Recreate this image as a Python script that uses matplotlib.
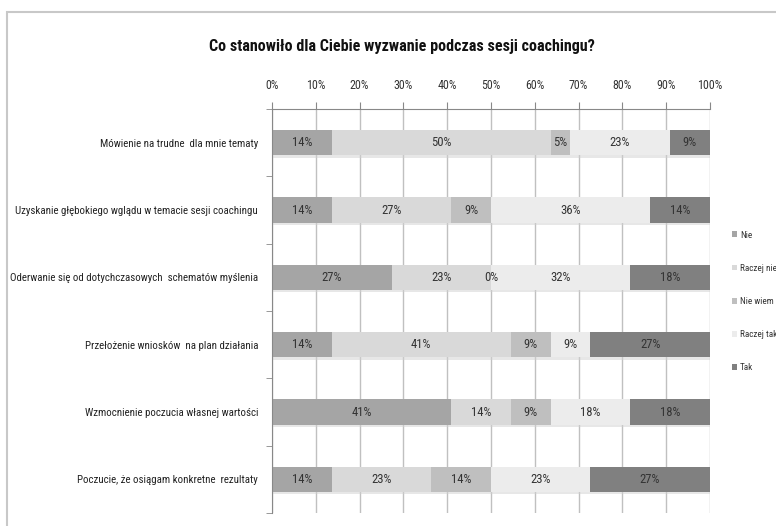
import os
import numpy as np
import matplotlib
matplotlib.use('Agg')
import matplotlib.pyplot as plt
from matplotlib import font_manager as fm
from matplotlib.textpath import TextPath
from matplotlib.patches import Rectangle

# dane (procent odpowiedzi, n = 22)
categories = [
    'Mówienie na trudne  dla mnie tematy',
    'Uzyskanie głębokiego wglądu w temacie sesji coachingu',
    'Oderwanie się od dotychczasowych  schematów myślenia',
    'Przełożenie wniosków  na plan działania',
    'Wzmocnienie poczucia własnej wartości',
    'Poczucie, że osiągam konkretne  rezultaty',
]
series_names = ['Nie', 'Raczej nie', 'Nie wiem', 'Raczej tak', 'Tak']
nie = [13.6, 13.6, 27.3, 13.6, 40.9, 13.6]
raczej_nie = [50.0, 27.3, 22.7, 40.9, 13.6, 22.7]
nie_wiem = [4.5, 9.1, 0.0, 9.1, 9.1, 13.6]
raczej_tak = [22.7, 36.4, 31.8, 9.1, 18.2, 22.7]
tak = [9.1, 13.6, 18.2, 27.3, 18.2, 27.3]
colors = ['#a5a5a5', '#d9d9d9', '#bfbfbf', '#ececec', '#808080']

series = [nie, raczej_nie, nie_wiem, raczej_tak, tak]

title = 'Co stanowiło dla Ciebie wyzwanie podczas sesji coachingu?'


# najwezsza dostepna czcionka (w oryginale mocno sciesniony Calibri)
def find_narrow(bold=False):
    ok_start = ('notosans-', 'liberationsansnarrow', 'dejavusanscondensed', 'opensans', 'roboto')
    bad = ['italic', 'oblique', 'light', 'thin', 'black', 'medium', 'semibold', 'extrabold',
           'mono', 'serif', 'cjk', 'display']
    best = None
    for f in fm.fontManager.ttflist:
        base = os.path.splitext(os.path.basename(f.fname))[0].lower()
        if not base.startswith(ok_start):
            continue
        if 'narrow' not in base and 'condensed' not in base:
            continue
        if any(b in base for b in bad) or bold != ('bold' in base):
            continue
        prop = fm.FontProperties(fname=f.fname)
        try:
            w = TextPath((0, 0), 'Uzyskanie głębokiego', size=10, prop=prop).get_extents().width
        except Exception:
            continue
        if best is None or w < best[0]:
            best = (w, prop)
    if best:
        return best[1]
    return fm.FontProperties(family='DejaVu Sans', weight='bold' if bold else 'normal')


# rozmiar czcionki tak, zeby tekst mial zadana szerokosc w pikselach
def fit_size(text, px, prop):
    w = TextPath((0, 0), text, size=10, prop=prop).get_extents().width
    return 10 * px * 0.72 / w


fp = find_narrow()
fpb = find_narrow(bold=True)

longest = max(categories, key=lambda s: TextPath((0, 0), s, size=10, prop=fp).get_extents().width)
label_size = fit_size(longest, 246, fp)
title_size = fit_size(title, 385, fpb)
tick_size = fit_size('100%', 24, fp)
data_size = fit_size('14%', 19, fp)
leg_size = fit_size('Nie wiem', 32, fp)

fig = plt.figure(figsize=(7.76, 5.26), dpi=100)
ax = fig.add_axes([272 / 776, 1 - 513 / 526, (710 - 272) / 776, (513 - 109) / 526])

# ramka wykresu
fig.patches.append(Rectangle((7 / 776, -0.1), 1.2, 1 - 12 / 526 + 0.1, transform=fig.transFigure,
                             fill=False, edgecolor='#c8c8c8', linewidth=1.5, zorder=0))

y = np.arange(len(categories))
h = 0.38
left = np.zeros(len(categories))
for name, vals, c in zip(series_names, series, colors):
    vals = np.array(vals)
    # cien pod slupkiem
    ax.barh(y + 0.035, vals, left=left, height=h, color='#d0d0d0', alpha=0.5, zorder=1)
    ax.barh(y, vals, left=left, height=h, color=c, label=name, zorder=2)
    for i, v in enumerate(vals):
        ax.text(left[i] + v / 2, y[i], '%d%%' % int(v + 0.5), ha='center', va='center',
                fontproperties=fp, fontsize=data_size, color='#333333', zorder=3)
    left += vals

ax.set_xlim(0, 100)
ax.set_ylim(len(categories) - 0.5, -0.5)
ax.xaxis.tick_top()
ax.set_xticks(np.arange(0, 101, 10))
ax.set_xticklabels(['%d%%' % t for t in range(0, 101, 10)], fontproperties=fp, fontsize=tick_size,
                   color='#333333')
ax.tick_params(axis='x', length=5, color='#888888', pad=7)
ax.set_yticks(y)
ax.set_yticklabels(categories, fontproperties=fp, fontsize=label_size, color='#222222')
ax.set_yticks(np.arange(-0.5, len(categories), 1), minor=True)
ax.tick_params(axis='y', which='major', length=0, pad=10)
ax.tick_params(axis='y', which='minor', length=4, color='#888888')
ax.grid(axis='x', color='#c0c0c0', linewidth=1, zorder=0)
ax.set_axisbelow(True)
for s in ['right', 'bottom']:
    ax.spines[s].set_visible(False)
ax.spines['top'].set_color('#888888')
ax.spines['left'].set_color('#888888')

fig.text(402 / 776, 1 - 46 / 526, title, ha='center', va='center', fontproperties=fpb,
         fontsize=title_size, color='#111111')

leg_fp = fp.copy()
leg_fp.set_size(leg_size)
fig.legend(loc='upper left', bbox_to_anchor=(727 / 776, 1 - 226 / 526), frameon=False,
           prop=leg_fp, handlelength=0.6, handleheight=0.6, handletextpad=0.3,
           labelspacing=2.65, borderpad=0, labelcolor='#333333')

fig.savefig('out.png', dpi=100)
